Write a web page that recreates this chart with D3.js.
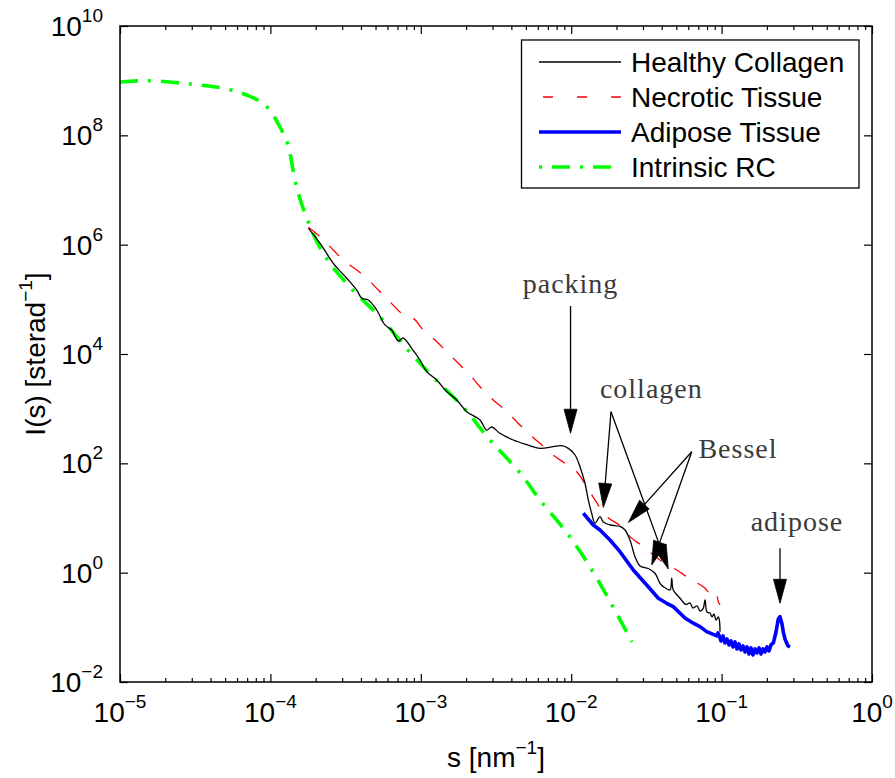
<!DOCTYPE html>
<html>
<head>
<meta charset="utf-8">
<script src="https://cdn.jsdelivr.net/npm/d3@7"></script>
<style>
  html, body { margin: 0; padding: 0; background: #fff; }
  svg { display: block; }
</style>
</head>
<body>
<svg id="chart" width="895" height="778"></svg>
<script>
// ---------------- DATA ----------------
const seriesNames = ["Healthy Collagen", "Necrotic Tissue", "Adipose Tissue", "Intrinsic RC"];

// Healthy Collagen
const healthyS = [1.79e-4,2.14e-4,2.62e-4,3.22e-4,3.75e-4,4.05e-4,4.48e-4,5.09e-4,5.78e-4,6.40e-4,7.09e-4,7.65e-4,8.70e-4,9.88e-4,
  1.094e-3,1.275e-3,1.487e-3,1.733e-3,2.02e-3,2.475e-3,2.74e-3,2.96e-3,3.36e-3,4.12e-3,5.06e-3,6.20e-3,7.60e-3,8.64e-3,9.57e-3,
  1.060e-2,1.144e-2,1.235e-2,1.299e-2,1.368e-2,1.439e-2,1.554e-2,1.634e-2,1.811e-2,2.111e-2,2.279e-2,2.460e-2,2.656e-2,2.867e-2,
  3.256e-2,3.607e-2,3.895e-2,4.097e-2,4.54e-2,4.66e-2,4.77e-2,5.29e-2,5.54e-2,5.80e-2,6.16e-2,6.45e-2,6.86e-2,7.18e-2,7.52e-2,
  7.76e-2,7.99e-2,8.37e-2,8.64e-2,8.90e-2,9.18e-2,9.51e-2,9.68e-2,9.76e-2];
const healthyI = [1.99e6,1.06e6,4.56e5,2.43e5,1.48e5,1.045e5,9.73e4,6.38e4,3.40e4,2.75e4,1.73e4,1.96e4,1.27e4,7.77e3,
  4.75e3,3.35e3,2.05e3,1.44e3,881,621,407,462,355,267,220,188,202,210,188,
  142,86.9,43.2,21.4,12.2,8.01,10.6,8.46,7.46,7.0,6.04,3.96,1.96,1.33,
  1.19,0.975,0.64,0.555,0.483,0.79,0.483,0.340,0.291,0.262,0.279,0.226,0.246,0.199,0.217,
  0.317,0.191,0.183,0.155,0.176,0.136,0.155,0.131,0.083];

// Necrotic Tissue
const necroticS = [1.79e-4,2.14e-4,2.62e-4,3.13e-4,3.75e-4,4.37e-4,5.22e-4,6.08e-4,7.46e-4,8.92e-4,1.039e-3,1.243e-3,1.523e-3,
  1.776e-3,2.124e-3,2.475e-3,3.03e-3,3.63e-3,4.34e-3,5.06e-3,6.37e-3,7.60e-3,9.09e-3,1.088e-2,1.268e-2,1.439e-2,1.722e-2,
  2.167e-2,2.460e-2,3.015e-2,3.895e-2,5.03e-2,5.86e-2,6.65e-2,7.76e-2,8.16e-2,8.50e-2,8.81e-2,9.18e-2,9.51e-2,9.76e-2];
const necroticI = [2.08e6,1.40e6,8.0e5,4.89e5,3.44e5,2.43e5,1.48e5,9.73e4,5.56e4,4.50e4,2.75e4,1.805e4,1.03e4,
  6.76e3,4.13e3,2.52e3,1.44e3,946,578,379,217,142,100,70.3,37.4,21.4,10.6,
  6.95,4.56,2.99,1.71,1.12,0.845,0.684,0.519,0.449,0.483,0.391,0.408,0.295,0.257];

// Adipose Tissue
const adiposeS = [1.203e-2,1.402e-2,1.554e-2,1.811e-2,2.111e-2,2.587e-2,3.177e-2,3.794e-2,4.315e-2,4.77e-2,5.71e-2,6.48e-2,
  7.18e-2,7.96e-2,8.64e-2,9.28e-2,9.46e-2,9.76e-2,
  0.09908,0.1022,0.1053,0.1086,0.1120,0.1155,0.1191,0.1228,0.1266,0.1305,0.1346,0.1388,0.1431,0.1476,0.1521,0.1569,
  0.1617,0.1668,0.1719,0.1773,0.1828,0.1885,0.1943,0.2004,0.2066,0.2130,
  0.2207,0.2300,0.2382,0.2445,0.2521,0.2572,0.2639,0.2709,0.2764,0.2850];
const adiposeI = [12.2,7.46,6.04,3.96,2.42,1.12,0.596,0.340,0.275,0.239,0.148,0.119,
  0.103,0.0834,0.0757,0.0695,0.0789,0.0640,
  0.0563,0.0695,0.0518,0.0612,0.0476,0.0563,0.0438,0.0540,0.0402,0.0496,0.0385,0.0456,0.0355,0.0438,0.0326,0.0420,
  0.0312,0.0402,0.0340,0.0420,0.0326,0.0402,0.0355,0.0438,0.0370,0.0476,
  0.0518,0.0822,0.142,0.157,0.115,0.0822,0.0612,0.0518,0.0456,0.0438];

// Intrinsic RC
const rcS = [1.0e-5,1.51e-5,2.92e-5,5.39e-5,7.90e-5,9.49e-5,1.158e-4,1.309e-4,1.457e-4,1.647e-4,2.237e-4,3.38e-4,5.36e-4,
  8.22e-4,1.205e-3,1.908e-3,2.885e-3,4.57e-3,6.20e-3,9.38e-3,1.334e-2,1.897e-2,2.537e-2];
const rcI = [9.46e8,9.99e8,8.69e8,6.84e8,4.68e8,3.30e8,1.42e8,6.66e7,1.52e7,4.69e6,7.05e5,1.68e5,4.75e4,
  1.18e4,3.80e3,1.07e3,267,66.6,21.4,5.32,1.27,0.236,0.054];

// Tick labels (powers of ten)
const xTickExps = [-5, -4, -3, -2, -1, 0];
const yTickExps = [-2, 0, 2, 4, 6, 8, 10];

// Annotations: label, label anchor (s, I), arrow tails and tips (s, I)
const annLabels = ["packing", "collagen", "Bessel", "adipose"];
const annTextS = [0.0099, 0.0341, 0.1285, 0.317];
const annTextI = [1.31e5, 1535, 124, 5.67];
const annTextAnchor = ["middle", "middle", "middle", "middle"];
const arrowTailS = [0.0099, 0.01839, 0.01839, 0.0633, 0.0633, 0.2445];
const arrowTailI = [7.55e4, 881, 881, 163, 163, 2.79];
const arrowTipS  = [0.0099, 0.01635, 0.0442, 0.0240, 0.0343, 0.2445];
const arrowTipI  = [355, 15.6, 1.17, 8.28, 1.38, 0.275];

// ---------------- CHART ----------------
const svg = d3.select("#chart");
const M = { left: 120, right: 872, top: 26, bottom: 682 };
const x = d3.scaleLog().domain([1e-5, 1]).range([M.left, M.right]);
const y = d3.scaleLog().domain([1e-2, 1e10]).range([M.bottom, M.top]);

const SANS = "'Liberation Sans', Arial, Helvetica, sans-serif";
const SERIF = "'Liberation Serif', 'Times New Roman', serif";

svg.append("defs").append("clipPath").attr("id", "clip")
  .append("rect").attr("x", M.left).attr("y", M.top)
  .attr("width", M.right - M.left).attr("height", M.bottom - M.top);

const zip = (a, b) => a.map((v, i) => [v, b[i]]);
const line = d3.line().x(d => x(d[0])).y(d => y(d[1]));
const smooth = d3.line().x(d => x(d[0])).y(d => y(d[1])).curve(d3.curveCatmullRom.alpha(0.5));

const series = [
  { name: seriesNames[0], data: zip(healthyS, healthyI), color: "#000000", width: 1.3, dash: null, gen: smooth },
  { name: seriesNames[1], data: zip(necroticS, necroticI), color: "#ff0000", width: 1.3, dash: "14,14", gen: smooth },
  { name: seriesNames[2], data: zip(adiposeS, adiposeI), color: "#0000ff", width: 3.6, dash: null, gen: line },
  { name: seriesNames[3], data: zip(rcS, rcI), color: "#00ff00", width: 3.6, dash: "18,10,3,10", gen: smooth }
];

// Draw order: green first (under), then red, blue, black
const plot = svg.append("g").attr("clip-path", "url(#clip)");
[3, 1, 2, 0].forEach(i => {
  const s = series[i];
  plot.append("path")
    .attr("d", s.gen(s.data))
    .attr("fill", "none")
    .attr("stroke", s.color)
    .attr("stroke-width", s.width)
    .attr("stroke-linejoin", "round")
    .attr("stroke-dasharray", s.dash);
});

// ---------- Axes (inward ticks, box) ----------
const xMajor = xTickExps.map(e => Math.pow(10, e));
const yMajor = yTickExps.map(e => Math.pow(10, e));
const xMinor = [];
for (let e = -5; e < 0; e++) for (let k = 2; k <= 9; k++) xMinor.push(k * Math.pow(10, e));

function styleAxis(g) {
  g.select(".domain").remove();
  g.selectAll(".tick line").attr("stroke", "#000").attr("stroke-width", 1.2);
  g.selectAll(".tick text").remove();
}
svg.append("g").attr("transform", `translate(0,${M.bottom})`)
  .call(d3.axisBottom(x).tickValues(xMajor).tickSize(-8)).call(styleAxis);
svg.append("g").attr("transform", `translate(0,${M.bottom})`)
  .call(d3.axisBottom(x).tickValues(xMinor).tickSize(-4)).call(styleAxis);
svg.append("g").attr("transform", `translate(0,${M.top})`)
  .call(d3.axisTop(x).tickValues(xMajor).tickSize(-8)).call(styleAxis);
svg.append("g").attr("transform", `translate(0,${M.top})`)
  .call(d3.axisTop(x).tickValues(xMinor).tickSize(-4)).call(styleAxis);
svg.append("g").attr("transform", `translate(${M.left},0)`)
  .call(d3.axisLeft(y).tickValues(yMajor).tickSize(-8)).call(styleAxis);
svg.append("g").attr("transform", `translate(${M.right},0)`)
  .call(d3.axisRight(y).tickValues(yMajor).tickSize(-8)).call(styleAxis);

svg.append("rect")
  .attr("x", M.left).attr("y", M.top)
  .attr("width", M.right - M.left).attr("height", M.bottom - M.top)
  .attr("fill", "none").attr("stroke", "#000").attr("stroke-width", 1.5);

const fmtExp = e => (e < 0 ? "\u2212" + Math.abs(e) : String(e));

// X tick labels
xTickExps.forEach(e => {
  const t = svg.append("text")
    .attr("x", x(Math.pow(10, e))).attr("y", 722)
    .attr("text-anchor", "middle")
    .attr("font-family", SANS).attr("font-size", 28).attr("fill", "#000");
  t.append("tspan").text("10");
  t.append("tspan").attr("dy", -14).attr("font-size", 19).text(fmtExp(e));
});

// Y tick labels
yTickExps.forEach(e => {
  const t = svg.append("text")
    .attr("x", 103).attr("y", y(Math.pow(10, e)) + 10)
    .attr("text-anchor", "end")
    .attr("font-family", SANS).attr("font-size", 28).attr("fill", "#000");
  t.append("tspan").text("10");
  t.append("tspan").attr("dy", -14).attr("font-size", 19).text(fmtExp(e));
});

// Axis titles
const xt = svg.append("text")
  .attr("x", (M.left + M.right) / 2).attr("y", 767)
  .attr("text-anchor", "middle")
  .attr("font-family", SANS).attr("font-size", 28).attr("fill", "#000");
xt.append("tspan").text("s [nm");
xt.append("tspan").attr("dy", -13).attr("font-size", 19).text("\u22121");
xt.append("tspan").attr("dy", 13).text("]");

const yt = svg.append("text")
  .attr("transform", `translate(45,${(M.top + M.bottom) / 2}) rotate(-90)`)
  .attr("text-anchor", "middle")
  .attr("font-family", SANS).attr("font-size", 28).attr("fill", "#000");
yt.append("tspan").text("I(s) [sterad");
yt.append("tspan").attr("dy", -13).attr("font-size", 19).text("\u22121");
yt.append("tspan").attr("dy", 13).text("]");

// ---------- Annotations ----------
const ann = svg.append("g");
arrowTailS.forEach((_, i) => {
  const x0 = x(arrowTailS[i]), y0 = y(arrowTailI[i]);
  const x1 = x(arrowTipS[i]), y1 = y(arrowTipI[i]);
  const dx = x1 - x0, dy = y1 - y0, L = Math.hypot(dx, dy);
  const ux = dx / L, uy = dy / L;
  const hl = 24, hw = 6.5;
  const bx = x1 - ux * hl, by = y1 - uy * hl;
  ann.append("line").attr("x1", x0).attr("y1", y0).attr("x2", bx).attr("y2", by)
    .attr("stroke", "#000").attr("stroke-width", 1.3);
  ann.append("path")
    .attr("d", `M${x1},${y1}L${bx - uy * hw},${by + ux * hw}L${bx + uy * hw},${by - ux * hw}Z`)
    .attr("fill", "#000").attr("stroke", "#000").attr("stroke-width", 0.8);
});
annLabels.forEach((lab, i) => {
  ann.append("text")
    .attr("x", x(annTextS[i])).attr("y", y(annTextI[i]))
    .attr("text-anchor", annTextAnchor[i])
    .attr("font-family", SERIF).attr("font-size", 28)
    .attr("letter-spacing", 1).attr("fill", "#3a3a3a")
    .text(lab);
});

// ---------- Legend ----------
const lg = svg.append("g");
lg.append("rect").attr("x", 521.5).attr("y", 40).attr("width", 337.5).attr("height", 148)
  .attr("fill", "#fff").attr("stroke", "#000").attr("stroke-width", 1.3);
const legendDash = ["none", "10,24", "none", "3,10,18,10"];
const legendOffset = [0, -4, 0, 0];
[0, 1, 2, 3].forEach((i, r) => {
  const s = series[i];
  const cy = 62 + r * 35;
  lg.append("line").attr("x1", 539).attr("x2", 621).attr("y1", cy).attr("y2", cy)
    .attr("stroke", s.color).attr("stroke-width", s.width)
    .attr("stroke-dasharray", legendDash[i]).attr("stroke-dashoffset", legendOffset[i]);
  lg.append("text").attr("x", 631).attr("y", cy + 10)
    .attr("font-family", SANS).attr("font-size", 28).attr("fill", "#000")
    .text(s.name);
});
</script>
</body>
</html>
